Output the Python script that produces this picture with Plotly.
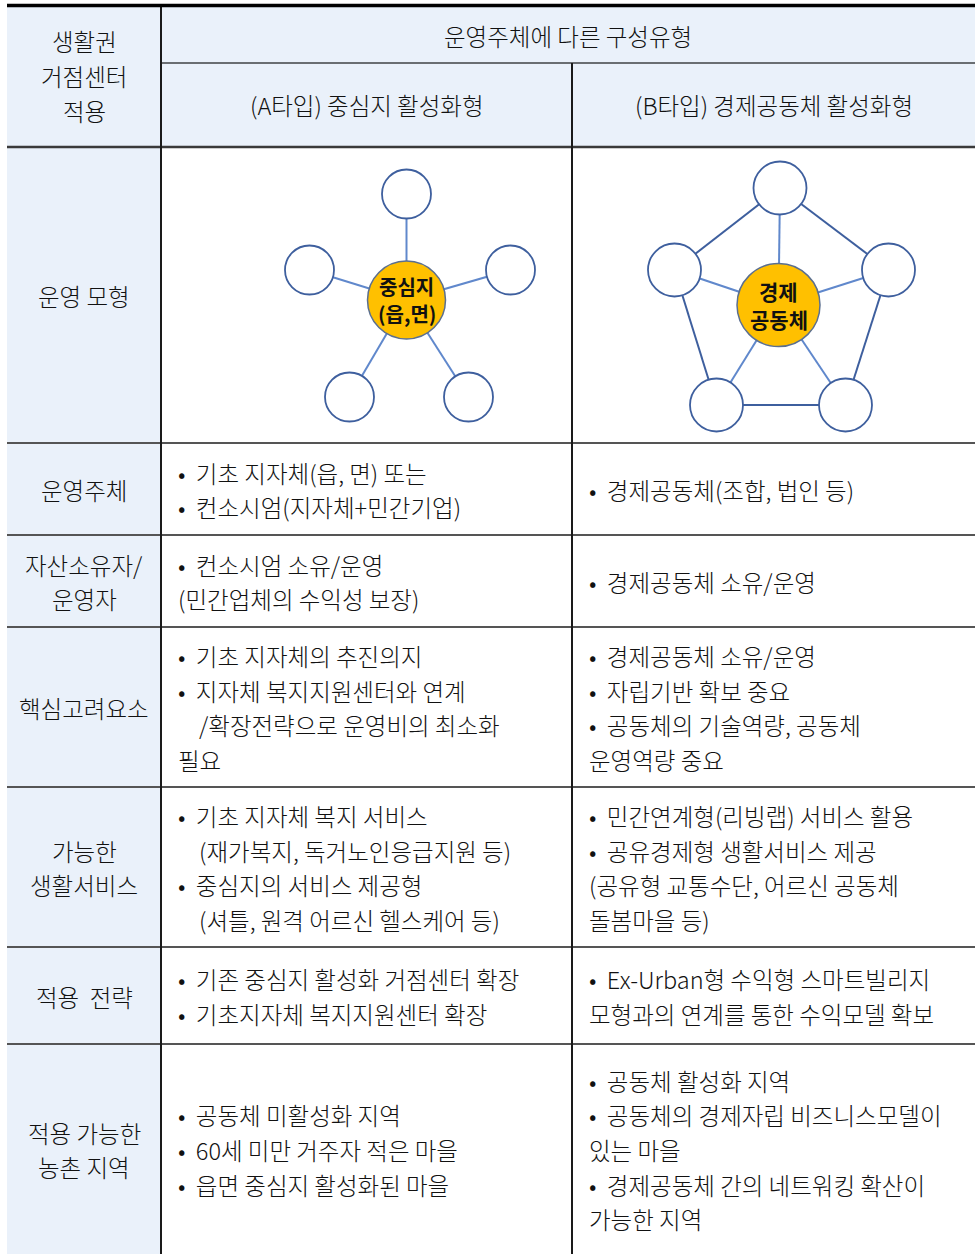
import plotly.graph_objects as go

# ---------------- data ----------------
corner_label = ["생활권", "거점센터", "적용"]
header_top = "운영주체에 다른 구성유형"
header_types = ["(A타입) 중심지 활성화형", "(B타입) 경제공동체 활성화형"]

row_labels = [
    ["운영 모형"],
    ["운영주체"],
    ["자산소유자/", "운영자"],
    ["핵심고려요소"],
    ["가능한", "생활서비스"],
    ["적용  전략"],
    ["적용 가능한", "농촌 지역"],
]

col_a_texts = [
    None,
    ["• 기초 지자체(읍, 면) 또는", "• 컨소시엄(지자체+민간기업)"],
    ["• 컨소시엄 소유/운영", "(민간업체의 수익성 보장)"],
    ["• 기초 지자체의 추진의지", "• 지자체 복지지원센터와 연계", " /확장전략으로 운영비의 최소화", "필요"],
    ["• 기초 지자체 복지 서비스", " (재가복지, 독거노인응급지원 등)", "• 중심지의 서비스 제공형", " (셔틀, 원격 어르신 헬스케어 등)"],
    ["• 기존 중심지 활성화 거점센터 확장", "• 기초지자체 복지지원센터 확장"],
    ["• 공동체 미활성화 지역", "• 60세 미만 거주자 적은 마을", "• 읍면 중심지 활성화된 마을"],
]

col_b_texts = [
    None,
    ["• 경제공동체(조합, 법인 등)"],
    ["• 경제공동체 소유/운영"],
    ["• 경제공동체 소유/운영", "• 자립기반 확보 중요", "• 공동체의 기술역량, 공동체", "운영역량 중요"],
    ["• 민간연계형(리빙랩) 서비스 활용", "• 공유경제형 생활서비스 제공", "(공유형 교통수단, 어르신 공동체", "돌봄마을 등)"],
    ["• Ex-Urban형 수익형 스마트빌리지", "모형과의 연계를 통한 수익모델 확보"],
    ["• 공동체 활성화 지역", "• 공동체의 경제자립 비즈니스모델이", "있는 마을", "• 경제공동체 간의 네트워킹 확산이", "가능한 지역"],
]

hub_a_label = ["중심지", "(읍,면)"]
hub_b_label = ["경제", "공동체"]
# edges between outer nodes (indices: 0 top, 1 right, 2 bottom-right, 3 bottom-left, 4 left)
edges_a = []
edges_b = [(0, 1), (1, 2), (2, 3), (3, 4), (4, 0)]

# ---------------- layout constants ----------------
W, H = 975, 1254
X0, XC1, XC2, X1 = 7, 161, 572, 975
Y_TOP, Y_HMID, Y_HBOT = 7, 63, 147
row_bounds = [147, 443, 535, 627, 787, 947, 1044, 1254]
LINE_H = 34.6
FS = 23.5
FONT = "Noto Sans CJK KR"
TXT = "#111111"
FILL = "#EAF1FA"

# node geometry (relative to hub centre) for the two diagrams
hub_a = (406.5, 300.0, 39)
nodes_a = [(0, -106), (104, -30), (62, 97), (-57, 97), (-97, -30)]
r_a = 24.5
hub_b = (778.5, 305.0, 41.5)
nodes_b = [(1.5, -117), (110, -35), (67, 100), (-62, 100), (-104, -35)]
r_b = 26.5

fig = go.Figure()
shapes = []
ann = []

# backgrounds
shapes.append(dict(type="rect", x0=X0, x1=XC1, y0=Y_TOP, y1=H, fillcolor=FILL,
                   line=dict(width=0), layer="below"))
shapes.append(dict(type="rect", x0=XC1, x1=X1, y0=Y_TOP, y1=Y_HBOT, fillcolor=FILL,
                   line=dict(width=0), layer="below"))

def hline(y, x0, x1, color="#5f5f5f", w=2):
    shapes.append(dict(type="line", x0=x0, x1=x1, y0=y, y1=y, line=dict(color=color, width=w)))

def vline(x, y0, y1, color="#1a1a1a", w=2):
    shapes.append(dict(type="line", x0=x, x1=x, y0=y0, y1=y1, line=dict(color=color, width=w)))

hline(Y_HMID, XC1, X1, "#6a6e72", 2)
hline(Y_HBOT, X0, X1, "#3a3a3a", 2.5)
for y in row_bounds[1:-1]:
    hline(y, X0, X1, "#555555", 2)
vline(XC1, Y_TOP, H)
vline(XC2, Y_HMID, H)
shapes.append(dict(type="line", x0=X0, x1=X1, y0=5.5, y1=5.5, line=dict(color="#000000", width=3.5)))

def text(x, y, s, anchor="center", size=FS, bold=False):
    if bold:
        s = "<b>" + s + "</b>"
    ann.append(dict(x=x, y=y, xref="x", yref="y", text=s, showarrow=False,
                    xanchor=anchor, yanchor="middle",
                    font=dict(family=FONT, size=size, color=TXT, weight=300 if not bold else 700)))

def block(lines, cx, cy, anchor="center", x_indent=21):
    n = len(lines)
    for i, s in enumerate(lines):
        y = cy + (i - (n - 1) / 2) * LINE_H
        x = cx
        if anchor == "left" and s.startswith(" "):
            x = cx + x_indent
            s = s.strip()
        if s.startswith("• "):
            s = "•\u00a0\u00a0" + s[2:]
        text(x, y, s, anchor)

# header
block(corner_label, (X0 + XC1) / 2, 76)
text((XC1 + X1) / 2, 36, header_top)
text((XC1 + XC2) / 2, 105, header_types[0])
text((XC2 + X1) / 2, 105, header_types[1])

# rows
for i, lab in enumerate(row_labels):
    ya, yb = row_bounds[i], row_bounds[i + 1]
    cy = (ya + yb) / 2 + 1
    block(lab, (X0 + XC1) / 2, cy)
    if col_a_texts[i]:
        block(col_a_texts[i], 176, cy, "left")
    if col_b_texts[i]:
        block(col_b_texts[i], 587, cy, "left")

# diagrams
def diagram(hub, nodes, r, edges, label, fsize, gap):
    hx, hy, hr = hub
    pts = [(hx + dx, hy + dy) for dx, dy in nodes]
    for a, b in edges:
        fig.add_trace(go.Scatter(x=[pts[a][0], pts[b][0]], y=[pts[a][1], pts[b][1]], mode="lines",
                                 line=dict(color="#3e5f9e", width=2), hoverinfo="skip", showlegend=False))
    for px, py in pts:
        fig.add_trace(go.Scatter(x=[hx, px], y=[hy, py], mode="lines",
                                 line=dict(color="#6088cc", width=2), hoverinfo="skip", showlegend=False))
    fig.add_trace(go.Scatter(x=[p[0] for p in pts], y=[p[1] for p in pts], mode="markers",
                             marker=dict(size=2 * r, color="white", line=dict(color="#3e5f9e", width=1.8)),
                             hoverinfo="skip", showlegend=False))
    fig.add_trace(go.Scatter(x=[hx], y=[hy], mode="markers",
                             marker=dict(size=2 * hr, color="#FFC000", line=dict(color="#5b6f8f", width=1.5)),
                             hoverinfo="skip", showlegend=False))
    for j, s in enumerate(label):
        text(hx, hy + (j - 0.5) * gap, s, size=fsize, bold=True)

diagram(hub_a, nodes_a, r_a, edges_a, hub_a_label, 20, 27)
diagram(hub_b, nodes_b, r_b, edges_b, hub_b_label, 21, 28.5)

fig.update_layout(
    width=W, height=H, margin=dict(l=0, r=0, t=0, b=0),
    paper_bgcolor="white", plot_bgcolor="white",
    xaxis=dict(range=[0, W], visible=False, fixedrange=True),
    yaxis=dict(range=[H, 0], visible=False, fixedrange=True),
    shapes=shapes, annotations=ann, showlegend=False,
)
fig.write_html("out.html", config={"displayModeBar": False},
               post_script="document.body.style.margin='0';document.body.style.overflow='hidden';")
